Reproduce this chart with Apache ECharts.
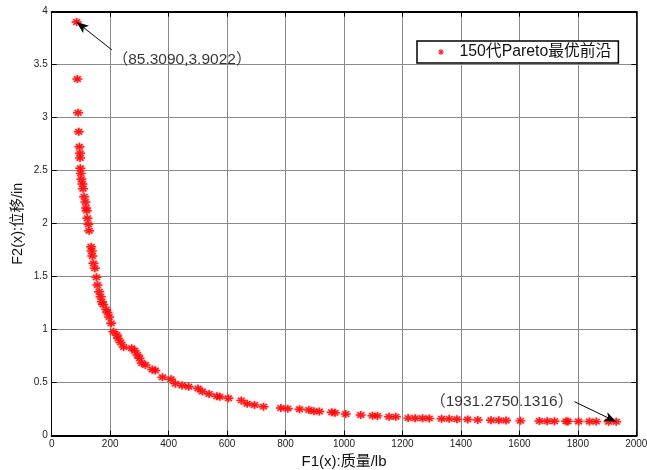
<!DOCTYPE html>
<html>
<head>
<meta charset="utf-8">
<script src="https://cdn.jsdelivr.net/npm/echarts@6/dist/echarts.min.js"></script>
<style>
  html, body { margin: 0; padding: 0; background: #fff; }
  #chart { width: 647px; height: 470px; }
</style>
</head>
<body>
<div id="chart"></div>
<script>
// Pareto front after 150 generations: mass F1 (lb) vs displacement F2 (in)
const f1 = [85.309, 87.8, 90.2, 92.6, 94.7, 97, 97, 98, 99.5, 101.5,
  105, 107.3, 110.8, 115.2, 117.6, 120, 122, 125.5, 128, 134.8,
  137, 139, 142.7, 147.5, 153, 156.4, 162.2, 167.4, 171.5, 176,
  186.2, 190.7, 196.5, 203.4, 211.2, 223, 227.4, 236, 246.2, 273.7,
  284, 293.6, 300.4, 308, 320.6, 344, 354.2, 379, 408, 422.8,
  445.8, 468.4, 500.7, 515.4, 538.4, 565.2, 574.8, 604.6, 648.5, 668.7,
  693.8, 724.6, 784, 807.6, 848, 880, 897, 915.6, 957.8, 969.1,
  1005.8, 1057.3, 1097.4, 1114.5, 1154.3, 1177.3, 1219.5, 1243.5, 1268.9, 1291.5,
  1334, 1360, 1386.5, 1423.2, 1457.5, 1503, 1529.5, 1554.5, 1603.6, 1668.7,
  1695, 1720, 1760, 1766, 1802.5, 1840, 1863, 1905.3, 1931.275];
const f2 = [3.9022, 3.365, 3.047, 2.868, 2.726, 2.664, 2.620, 2.523, 2.475, 2.419,
  2.375, 2.330, 2.255, 2.205, 2.148, 2.123, 2.051, 1.994, 1.934, 1.783,
  1.742, 1.695, 1.626, 1.579, 1.494, 1.422, 1.358, 1.311, 1.264, 1.238,
  1.192, 1.162, 1.120, 1.060, 0.981, 0.950, 0.917, 0.879, 0.837, 0.825,
  0.802, 0.761, 0.730, 0.686, 0.667, 0.624, 0.615, 0.551, 0.532, 0.491,
  0.474, 0.462, 0.445, 0.417, 0.393, 0.372, 0.368, 0.353, 0.333, 0.302,
  0.290, 0.274, 0.261, 0.255, 0.250, 0.242, 0.230, 0.228, 0.221, 0.217,
  0.205, 0.195, 0.189, 0.187, 0.179, 0.178, 0.166, 0.165, 0.164, 0.163,
  0.160, 0.159, 0.155, 0.154, 0.149, 0.146, 0.145, 0.143, 0.140, 0.139,
  0.137, 0.136, 0.1355, 0.135, 0.134, 0.1335, 0.133, 0.132, 0.1316];

const seriesName = '150代Pareto最优前沿';
const xTitle = 'F1(x):质量/lb';
const yTitle = 'F2(x):位移/in';
const xRange = { min: 0, max: 2000, interval: 200 };
const yRange = { min: 0, max: 4, interval: 0.5 };

// Callout texts for the two extreme solutions
const firstLabel = '（85.3090,3.9022）';
const lastLabel = '（1931.2750.1316）';
// Arrow tails, in axis units; heads sit on the extreme points
const firstArrowTail = [205.8, 3.64];
const lastArrowTail = [1788.7, 0.321];

const FONT = '"Liberation Sans", Arial, "Noto Sans CJK SC", sans-serif';

// bold asterisk marker ('*')
const STAR = 'path://M0,4.1H10V5.9H0Z M4.15,0H5.85V10H4.15Z M1,2.2L2.2,1L9,7.8L7.8,9Z M7.8,1L9,2.2L2.2,9L1,7.8Z';

const last = f1.length - 1;
const points = f1.map((x, i) => {
  const item = { value: [x, f2[i]] };
  if (i === 0) {
    item.label = { show: true, formatter: firstLabel, position: 'right', distance: 0, offset: [31, 38] };
  } else if (i === last) {
    item.label = { show: true, formatter: lastLabel, position: 'left', distance: 0, offset: [-38, -20] };
  }
  return item;
});

const chart = echarts.init(document.getElementById('chart'), null, { renderer: 'canvas' });

const axisCommon = {
  type: 'value',
  axisLine: { show: true, onZero: false, lineStyle: { color: '#000', width: 1 } },
  axisTick: { show: true, inside: true, length: 5, lineStyle: { color: '#000', width: 1 } },
  splitLine: { show: false },
  axisLabel: { show: false }
};

const plainNumber = v => String(v);

chart.setOption({
  animation: false,
  backgroundColor: '#fff',
  grid: { left: 51.7, right: 10.7, top: 11.7, bottom: 34.3, containLabel: false, outerBoundsMode: 'none' },
  legend: {
    data: [{ name: seriesName, icon: STAR }],
    left: 417, top: 41,
    itemWidth: 7, itemHeight: 6,
    backgroundColor: '#fff',
    borderColor: '#000', borderWidth: 1.5, borderRadius: 0,
    padding: [3, 7, 3, 21],
    itemGap: 0,
    textStyle: { fontFamily: FONT, fontSize: 15.8, color: '#111', padding: [0, 0, 0, 10], lineHeight: 16 }
  },
  xAxis: [
    Object.assign({}, axisCommon, xRange, {
      position: 'bottom',
      name: xTitle, nameLocation: 'middle', nameGap: 16,
      nameTextStyle: { fontFamily: FONT, fontSize: 15, color: '#111' },
      axisLine: { show: true, onZero: false, lineStyle: { color: '#000', width: 2 } },
      splitLine: { show: true, lineStyle: { color: '#8a8a8a', width: 1 } },
      axisLabel: { show: true, margin: 4, fontFamily: FONT, fontSize: 10, color: '#222', formatter: plainNumber }
    }),
    Object.assign({}, axisCommon, xRange, {
      position: 'top',
      axisLine: { show: true, onZero: false, lineStyle: { color: '#000', width: 2 } }
    })
  ],
  yAxis: [
    Object.assign({}, axisCommon, yRange, {
      position: 'left',
      name: yTitle, nameLocation: 'middle', nameGap: 26, nameRotate: 90,
      nameMoveOverlap: false,
      nameTextStyle: { fontFamily: FONT, fontSize: 14.5, color: '#111' },
      splitLine: { show: true, lineStyle: { color: '#8a8a8a', width: 1 } },
      axisLabel: { show: true, margin: 4, fontFamily: FONT, fontSize: 10, color: '#222', formatter: plainNumber }
    }),
    Object.assign({}, axisCommon, yRange, {
      position: 'right',
      axisLine: { show: true, onZero: false, lineStyle: { color: '#000', width: 1.5 } }
    })
  ],
  series: [{
    name: seriesName,
    type: 'scatter',
    xAxisIndex: 0, yAxisIndex: 0,
    symbol: STAR,
    symbolSize: [10, 8],
    itemStyle: { color: '#ff0000', opacity: 0.85, shadowBlur: 2, shadowColor: 'rgba(255,80,80,0.6)' },
    label: { fontFamily: FONT, fontSize: 15.5, color: '#111' },
    emphasis: { disabled: true },
    data: points,
    markLine: {
      silent: true,
      symbol: ['none', 'arrow'],
      symbolSize: [7, 12],
      label: { show: false },
      lineStyle: { color: '#000', width: 1, type: 'solid' },
      data: [
        [{ coord: firstArrowTail }, { coord: [f1[0], f2[0]] }],
        [{ coord: lastArrowTail }, { coord: [f1[last], f2[last]] }]
      ]
    }
  }]
});
</script>
</body>
</html>
